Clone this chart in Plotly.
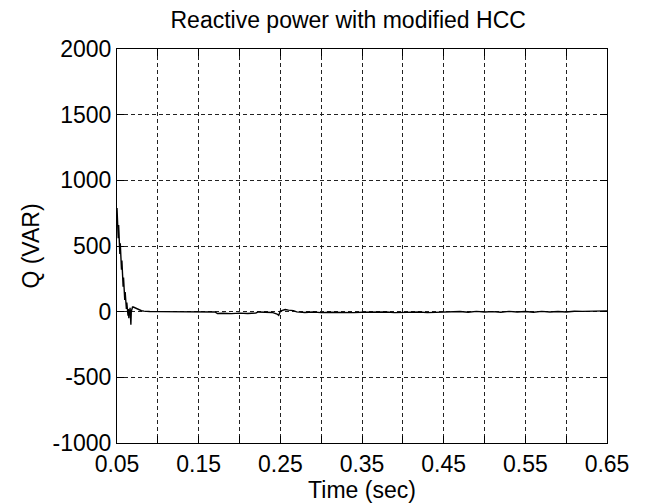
import plotly.graph_objects as go

# Reactive power transient with the modified hysteresis current controller
time_s = [
    0.0500, 0.0505, 0.0510, 0.0515, 0.0520, 0.0525, 0.0530, 0.0535, 0.0540, 0.0545,
    0.0550, 0.0555, 0.0560, 0.0565, 0.0570, 0.0575, 0.0580, 0.0585, 0.0590, 0.0595,
    0.0600, 0.0605, 0.0610, 0.0615, 0.0620, 0.0625, 0.0630, 0.0635, 0.0640, 0.0645,
    0.0650, 0.0655, 0.0660, 0.0665, 0.0670, 0.0675, 0.0680, 0.0690, 0.0700, 0.0710,
    0.0720, 0.0730, 0.0740, 0.0750, 0.0760, 0.0780, 0.0800, 0.0830, 0.0860, 0.0900,
    0.1000, 0.1200, 0.1400, 0.1600, 0.1700, 0.1730, 0.1800, 0.1900, 0.2000, 0.2100,
    0.2200, 0.2230, 0.2300, 0.2400, 0.2460, 0.2480, 0.2500, 0.2560, 0.2600, 0.2660,
    0.2700, 0.2800, 0.2900, 0.3000, 0.3100, 0.3200, 0.3300, 0.3400, 0.3500, 0.3600,
    0.3700, 0.3800, 0.3900, 0.4000, 0.4100, 0.4200, 0.4300, 0.4400, 0.4500, 0.4520,
    0.4600, 0.4700, 0.4800, 0.4900, 0.5000, 0.5100, 0.5200, 0.5300, 0.5400, 0.5500,
    0.5600, 0.5700, 0.5800, 0.5900, 0.6000, 0.6100, 0.6200, 0.6300, 0.6400, 0.6500,
]
q_var = [
    790, 610, 730, 560, 660, 500, 600, 440, 520, 380,
    460, 320, 390, 250, 330, 190, 260, 140, 200, 90,
    150, 50, 110, 20, 70, -10, 40, -30, 20, -50,
    10, -20, 30, -60, -100, 0, 25, 35, 35, 32,
    30, 28, 22, 18, 14, 10, 7, 4, 2, 1,
    0, 0, 0, 0, -2, -14, -12, -15, -11, -14,
    -10, -2, -4, -6, -18, -28, 4, 16, 12, 8,
    -2, -6, -3, -7, -4, -6, -3, -7, -5, -4,
    -6, -3, -7, -4, -6, -3, -7, -4, -5, -1,
    -3, 1, -4, 2, -3, 0, -4, 2, -3, 1,
    -4, 2, -3, 1, -2, 3, 2, 5, 4, 6,
]

x_tickvals = [0.05, 0.10, 0.15, 0.20, 0.25, 0.30, 0.35, 0.40, 0.45, 0.50, 0.55, 0.60, 0.65]
x_ticktext = ["0.05", "", "0.15", "", "0.25", "", "0.35", "", "0.45", "", "0.55", "", "0.65"]
y_tickvals = [-1000, -500, 0, 500, 1000, 1500, 2000]
y_ticktext = ["-1000", "-500", "0", "500", "1000", "1500", "2000"]

font_family = "Liberation Sans, Arial, sans-serif"
text_size = 23

fig = go.Figure(
    go.Scatter(
        x=time_s, y=q_var, mode="lines",
        line=dict(color="black", width=1.4),
        showlegend=False,
    )
)

axis_common = dict(
    showline=True, linecolor="black", linewidth=1, mirror="allticks",
    ticks="inside", ticklen=7, tickcolor="black", tickwidth=1.2,
    showgrid=True, gridcolor="#222222", gridwidth=1, griddash="4px,3px",
    zeroline=False,
    tickfont=dict(family=font_family, size=text_size, color="black"),
)

fig.update_xaxes(
    range=[0.05, 0.65], tickmode="array", tickvals=x_tickvals, ticktext=x_ticktext,
    title=dict(text="Time (sec)", font=dict(family=font_family, size=text_size, color="black"),
               standoff=0),
    **axis_common,
)
fig.update_yaxes(
    range=[-1000, 2000], tickmode="array", tickvals=y_tickvals, ticktext=y_ticktext,
    title=dict(text="Q (VAR)", font=dict(family=font_family, size=text_size, color="black"),
               standoff=6),
    **axis_common,
)

fig.update_layout(
    width=646, height=504,
    margin=dict(l=117, r=39, t=49, b=61),
    paper_bgcolor="white", plot_bgcolor="white",
    title=dict(text="Reactive power with modified HCC", x=0.539, xanchor="center",
               y=0.960, yanchor="middle",
               font=dict(family=font_family, size=text_size, color="black")),
)

fig.write_html("out.html")
